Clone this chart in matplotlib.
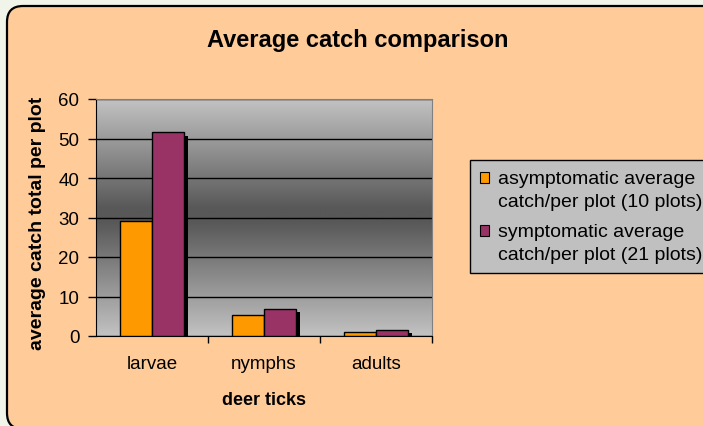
import numpy as np
import matplotlib
matplotlib.use('Agg')
import matplotlib.pyplot as plt
from matplotlib.patches import FancyBboxPatch, Patch
from matplotlib.transforms import IdentityTransform
import matplotlib.patheffects as pe

plt.rcParams['font.family'] = ['Liberation Sans', 'DejaVu Sans']

# data
stages = ['larvae', 'nymphs', 'adults']
asymptomatic = [29, 5.2, 1.0]
symptomatic = [51.6, 6.8, 1.5]
series_names = ['asymptomatic average\ncatch/per plot (10 plots)',
                'symptomatic average\ncatch/per plot (21 plots)']
series_colors = ['#FF9900', '#993366']

W, H = 703, 427
fig = plt.figure(figsize=(W / 100, H / 100), dpi=100)
fig.patch.set_facecolor('#F1F4E9')

# rounded orange chart area (runs off the right and bottom edges)
box = FancyBboxPatch((7, -3), 720, H - 7 + 3,
                     boxstyle='round,pad=0,rounding_size=16',
                     facecolor='#FFCC99', edgecolor='black', linewidth=1.6,
                     transform=IdentityTransform(), zorder=-10)
fig.add_artist(box)

ax = fig.add_axes([96 / W, 1 - 337 / H, (432 - 96) / W, (337 - 100) / H])
ax.set_facecolor('none')

# grey gradient behind the bars
t = np.linspace(0, 1, 256)
levels = np.interp(t, [0, 0.46, 0.52, 1], [194, 88, 88, 194]) / 255
grad = np.dstack([levels, levels, levels]).reshape(256, 1, 3)
ax.imshow(grad, extent=[0, 1, 0, 1], transform=ax.transAxes, aspect='auto',
          zorder=0, interpolation='bilinear')

x = np.arange(len(stages))
w = 0.29
shadow = [pe.SimplePatchShadow(offset=(2.4, -2.4), shadow_rgbFace='black', alpha=1),
          pe.Normal()]
for i, (vals, col) in enumerate(zip([asymptomatic, symptomatic], series_colors)):
    bars = ax.bar(x + (i - 1) * w, vals, width=w, align='edge', color=col,
                  edgecolor='black', linewidth=1, zorder=3 + i)
    for b in bars:
        b.set_path_effects(shadow)

ax.set_xlim(-0.5, 2.5)
ax.set_ylim(0, 60)
ax.set_yticks(range(0, 61, 10))
ax.set_xticks([0.5, 1.5, 2.5], minor=False)
ax.set_xticklabels([])
ax.set_xticks(x, minor=True)
ax.set_xticklabels(stages, minor=True, fontsize=13.5)
ax.tick_params(axis='x', which='minor', length=0, pad=14)
ax.tick_params(axis='x', which='major', length=5, width=1, direction='out')
ax.tick_params(axis='y', length=6, width=1, direction='out', labelsize=13.5, pad=6)
ax.yaxis.grid(True, color='black', linewidth=1, zorder=1)
ax.set_axisbelow(True)

ax.spines['left'].set_color('black')
ax.spines['bottom'].set_color('black')
ax.spines['top'].set_color('#808080')
ax.spines['right'].set_color('#808080')

ax.set_xlabel('deer ticks', fontsize=13, fontweight='bold')
ax.xaxis.set_label_coords(0.5, -0.23)
ax.set_ylabel('average catch total per plot', fontsize=14, fontweight='bold')
ax.yaxis.label.set_va('center')
ax.yaxis.set_label_coords(-0.173, 0.48)

fig.text(358 / W, 1 - 40 / H, 'Average catch comparison', fontsize=17,
         fontweight='bold', ha='center', va='center')

handles = [Patch(facecolor=c, edgecolor='black', linewidth=0.8) for c in series_colors]
leg = fig.legend(handles, series_names, loc='upper left',
                 bbox_to_anchor=(470 / W, 1 - 161 / H), fontsize=14,
                 frameon=True, fancybox=False, facecolor='#C0C0C0',
                 edgecolor='black', framealpha=1, handlelength=0.48,
                 handleheight=0.48, handletextpad=0.45, borderpad=0.5,
                 labelspacing=0.7, borderaxespad=0)
leg.get_frame().set_linewidth(1)
for txt in leg.get_texts():
    txt.set_linespacing(1.45)
# put the swatches beside the first line of each label
for h in leg.legend_handles:
    h.set_y(h.get_y() + 8.5)

fig.savefig('out.png', dpi=100, facecolor=fig.get_facecolor())
